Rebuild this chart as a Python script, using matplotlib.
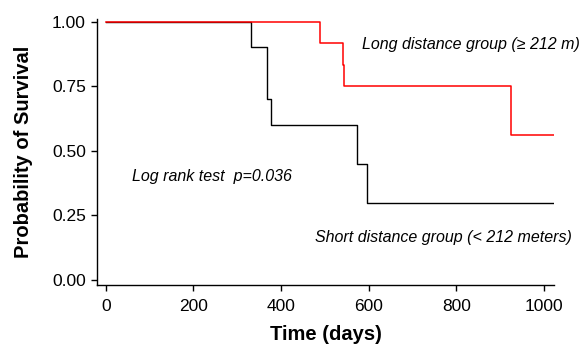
import matplotlib
matplotlib.use("Agg")
import matplotlib.pyplot as plt

# Kaplan-Meier step data (days, survival)
long_days = [0, 489, 541, 543, 925, 1023]
long_surv = [1.0, 0.917, 0.833, 0.75, 0.5625, 0.5625]

short_days = [0, 332, 369, 376, 574, 597, 1023]
short_surv = [1.0, 0.9, 0.7, 0.6, 0.45, 0.30, 0.30]

x_ticks = [0, 200, 400, 600, 800, 1000]
y_ticks = [0.0, 0.25, 0.5, 0.75, 1.0]

plt.rcParams["font.family"] = ["Liberation Sans", "DejaVu Sans"]

fig = plt.figure(figsize=(5.79, 3.44), dpi=100)
ax = fig.add_axes([0.1675, 0.1715, 0.7895, 0.7735])

ax.step(short_days, short_surv, where="post", color="black", lw=1.0, zorder=2)
ax.step(long_days, long_surv, where="post", color="#ff0000", lw=1.1, zorder=3)

ax.set_xlim(-20, 1023)
ax.set_ylim(-0.019, 1.01)
ax.set_xticks(x_ticks)
ax.set_yticks(y_ticks)
ax.set_yticklabels([f"{v:.2f}" for v in y_ticks])
ax.tick_params(labelsize=12.5, length=4, width=1, pad=4)
ax.tick_params(axis="x", pad=6)
for side in ("top", "right"):
    ax.spines[side].set_visible(False)
for side in ("left", "bottom"):
    ax.spines[side].set_linewidth(1)

ax.set_xlabel("Time (days)", fontsize=14.5, fontweight="bold", labelpad=8)
ax.set_ylabel("Probability of Survival", fontsize=14.5, fontweight="bold", labelpad=14)

ax.text(584, 0.913, "Long distance group (\u2265 212 m)", style="italic",
        fontsize=11.5, ha="left", va="center", clip_on=False)
ax.text(477, 0.165, "Short distance group (< 212 meters)", style="italic",
        fontsize=11.5, ha="left", va="center", clip_on=False)
ax.text(59, 0.40, "Log rank test  p=0.036", style="italic",
        fontsize=11.5, ha="left", va="center")

fig.savefig("out.png", dpi=100)
